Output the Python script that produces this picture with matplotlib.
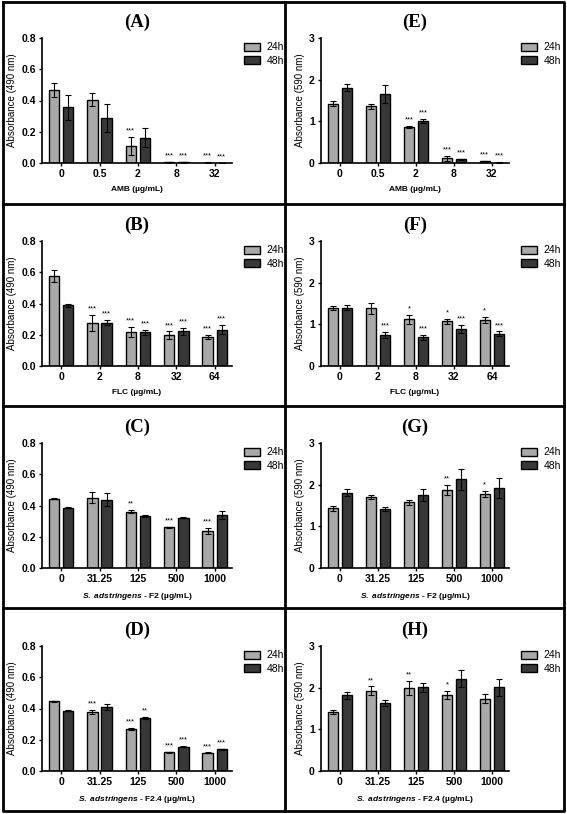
import numpy as np
import matplotlib
matplotlib.use("Agg")
import matplotlib.pyplot as plt
from matplotlib.lines import Line2D

plt.rcParams["font.family"] = ["Liberation Sans", "DejaVu Sans"]
plt.rcParams["mathtext.fontset"] = "custom"
plt.rcParams["mathtext.it"] = "Liberation Sans:italic:bold"
plt.rcParams["mathtext.rm"] = "Liberation Sans:bold"

# Data
cats_amb = ["0", "0.5", "2", "8", "32"]
cats_flc = ["0", "2", "8", "32", "64"]
cats_ext = ["0", "31.25", "125", "500", "1000"]

# (A) AMB, 490 nm
A_24 = [0.467, 0.406, 0.109, 0.006, 0.003]
A_24_err = [0.043, 0.040, 0.059, 0.003, 0.001]
A_48 = [0.358, 0.288, 0.162, 0.005, 0.002]
A_48_err = [0.080, 0.087, 0.059, 0.002, 0.001]
A_sig24 = ["", "", "***", "***", "***"]
A_sig48 = ["", "", "", "***", "***"]

# (B) FLC, 490 nm
B_24 = [0.577, 0.275, 0.217, 0.197, 0.185]
B_24_err = [0.040, 0.052, 0.031, 0.024, 0.015]
B_48 = [0.390, 0.278, 0.217, 0.221, 0.233]
B_48_err = [0.010, 0.017, 0.016, 0.025, 0.030]
B_sig24 = ["", "***", "***", "***", "***"]
B_sig48 = ["", "***", "***", "***", "***"]

# (C) S. adstringens F2, 490 nm
C_24 = [0.443, 0.450, 0.361, 0.260, 0.238]
C_24_err = [0.003, 0.035, 0.008, 0.004, 0.018]
C_48 = [0.386, 0.437, 0.333, 0.321, 0.338]
C_48_err = [0.004, 0.042, 0.006, 0.004, 0.025]
C_sig24 = ["", "", "**", "***", "***"]
C_sig48 = ["", "", "", "", ""]

# (D) S. adstringens F2.4, 490 nm
D_24 = [0.446, 0.378, 0.269, 0.120, 0.117]
D_24_err = [0.002, 0.015, 0.004, 0.004, 0.002]
D_48 = [0.386, 0.410, 0.339, 0.156, 0.139]
D_48_err = [0.004, 0.022, 0.009, 0.004, 0.002]
D_sig24 = ["", "***", "***", "***", "***"]
D_sig48 = ["", "", "**", "***", "***"]

# (E) AMB, 590 nm
E_24 = [1.42, 1.36, 0.86, 0.12, 0.04]
E_24_err = [0.06, 0.06, 0.02, 0.06, 0.01]
E_48 = [1.81, 1.66, 1.01, 0.09, 0.01]
E_48_err = [0.09, 0.22, 0.05, 0.015, 0.005]
E_sig24 = ["", "", "***", "***", "***"]
E_sig48 = ["", "", "***", "***", "***"]

# (F) FLC, 590 nm
F_24 = [1.385, 1.39, 1.12, 1.08, 1.10]
F_24_err = [0.05, 0.13, 0.10, 0.06, 0.07]
F_48 = [1.40, 0.74, 0.69, 0.89, 0.78]
F_48_err = [0.06, 0.07, 0.06, 0.10, 0.05]
F_sig24 = ["", "", "*", "*", "*"]
F_sig48 = ["", "***", "***", "***", "***"]

# (G) S. adstringens F2, 590 nm
G_24 = [1.43, 1.71, 1.575, 1.87, 1.78]
G_24_err = [0.05, 0.05, 0.06, 0.12, 0.07]
G_48 = [1.81, 1.41, 1.75, 2.13, 1.93]
G_48_err = [0.08, 0.05, 0.135, 0.25, 0.24]
G_sig24 = ["", "", "", "**", "*"]
G_sig48 = ["", "", "", "", ""]

# (H) S. adstringens F2.4, 590 nm
H_24 = [1.42, 1.93, 2.00, 1.83, 1.74]
H_24_err = [0.05, 0.10, 0.17, 0.10, 0.10]
H_48 = [1.815, 1.63, 2.01, 2.22, 2.01]
H_48_err = [0.08, 0.08, 0.11, 0.21, 0.21]
H_sig24 = ["", "**", "**", "*", ""]
H_sig48 = ["", "", "", "", ""]

lab_amb = "AMB (µg/mL)"
lab_flc = "FLC (µg/mL)"
lab_f2 = r"$\it{S.\ adstringens}$ - F2 (µg/mL)"
lab_f24 = r"$\it{S.\ adstringens}$ - F2.4 (µg/mL)"

panels = [
    ("(A)", cats_amb, A_24, A_24_err, A_48, A_48_err, A_sig24, A_sig48, lab_amb, 490),
    ("(B)", cats_flc, B_24, B_24_err, B_48, B_48_err, B_sig24, B_sig48, lab_flc, 490),
    ("(C)", cats_ext, C_24, C_24_err, C_48, C_48_err, C_sig24, C_sig48, lab_f2, 490),
    ("(D)", cats_ext, D_24, D_24_err, D_48, D_48_err, D_sig24, D_sig48, lab_f24, 490),
    ("(E)", cats_amb, E_24, E_24_err, E_48, E_48_err, E_sig24, E_sig48, lab_amb, 590),
    ("(F)", cats_flc, F_24, F_24_err, F_48, F_48_err, F_sig24, F_sig48, lab_flc, 590),
    ("(G)", cats_ext, G_24, G_24_err, G_48, G_48_err, G_sig24, G_sig48, lab_f2, 590),
    ("(H)", cats_ext, H_24, H_24_err, H_48, H_48_err, H_sig24, H_sig48, lab_f24, 590),
]

W, H = 567, 814
fig = plt.figure(figsize=(W / 100, H / 100), dpi=100)

light = "#a9a9a9"
dark = "#383838"
row_tops = [0, 203, 405, 608]
col_x = [(42, 232), (321, 509)]

for i, (title, cats, v24, e24, v48, e48, s24, s48, xlab, nm) in enumerate(panels):
    col, row = divmod(i, 4)
    x0, x1 = col_x[col]
    top = row_tops[row] + 38
    bot = row_tops[row] + 163
    ax = fig.add_axes([x0 / W, 1 - bot / H, (x1 - x0) / W, (bot - top) / H])

    x = np.arange(len(cats))
    w = 0.27
    off = 0.185
    ek = dict(ecolor="black", elinewidth=0.8, capsize=2.2, capthick=0.8)
    ax.bar(x - off, v24, w, yerr=e24, color=light, edgecolor="black",
           linewidth=1.0, error_kw=ek, label="24h")
    ax.bar(x + off, v48, w, yerr=e48, color=dark, edgecolor="black",
           linewidth=1.0, error_kw=ek, label="48h")

    ymax = 0.8 if nm == 490 else 3
    pad = ymax * 0.02
    for j in range(len(cats)):
        if s24[j]:
            ax.text(x[j] - off, v24[j] + e24[j] + pad, s24[j], ha="center",
                    va="bottom", fontsize=5.5)
        if s48[j]:
            ax.text(x[j] + off, v48[j] + e48[j] + pad, s48[j], ha="center",
                    va="bottom", fontsize=5.5)

    ax.set_ylim(0, ymax)
    ax.set_xlim(-0.5, len(cats) - 1 + 0.45)
    if nm == 490:
        ax.set_yticks([0, 0.2, 0.4, 0.6, 0.8])
        ax.set_yticklabels(["0.0", "0.2", "0.4", "0.6", "0.8"])
    else:
        ax.set_yticks([0, 1, 2, 3])
    ax.set_xticks(x)
    ax.set_xticklabels(cats)
    for lbl in ax.get_xticklabels() + ax.get_yticklabels():
        lbl.set_fontweight("bold")
        lbl.set_fontsize(7.5)
    ax.tick_params(axis="both", direction="out", length=2.5, width=1.0, pad=2)
    for sp in ["top", "right"]:
        ax.spines[sp].set_visible(False)
    for sp in ["left", "bottom"]:
        ax.spines[sp].set_linewidth(1.2)

    ax.set_ylabel("Absorbance (%d nm)" % nm, fontsize=7, labelpad=3)
    ax.set_xlabel(xlab, fontsize=6, fontweight="bold", labelpad=5)
    ax.set_title(title, fontsize=13.5, fontweight="bold",
                 family=["Liberation Serif"], pad=8)
    ax.legend(loc="upper left", bbox_to_anchor=(1.04, 1.0), frameon=False,
              fontsize=7.5, handlelength=1.6, handleheight=0.8,
              labelspacing=0.35, handletextpad=0.6, borderaxespad=0)

# panel frames
def fline(xs, ys):
    fig.add_artist(Line2D([v / W for v in xs], [1 - v / H for v in ys],
                          color="black", linewidth=2.0))

fline([3, 564, 564, 3, 3], [2, 2, 811, 811, 2])
fline([285, 285], [2, 811])
for yy in [204, 406, 608]:
    fline([3, 564], [yy, yy])

fig.savefig("out.png", dpi=100, facecolor="white")
